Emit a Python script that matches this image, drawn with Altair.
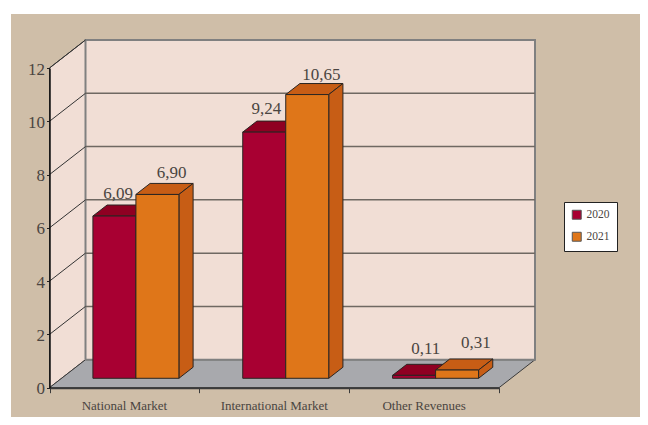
import altair as alt
import pandas as pd

categories = ["National Market", "International Market", "Other Revenues"]
years = ["2020", "2021"]
v2020 = [6.09, 9.24, 0.11]
v2021 = [6.90, 10.65, 0.31]
labels2020 = ["6,09", "9,24", "0,11"]
labels2021 = ["6,90", "10,65", "0,31"]
y_ticks = [0, 2, 4, 6, 8, 10, 12]
x_ticks = [0, 1, 2, 3]

# pixel size of one unit on each scale, and of the full floor depth
KX, KY = 149.83, 26.64
DX, DY = 36 / KX, 28 / KY
FRONT, BACK = 0.336, 0.73
BAR_START, BAR_W = 0.209, 0.287

RED, RED_DK = "#A80032", "#8F0022"
ORG, ORG_DK = "#DF7619", "#C75D15"
WALL, FLOOR, BG = "#F1DED5", "#A8A9AD", "#CFBEA8"
INK = "#2A2522"
TXT = "#4A4541"

W, H = 632, 409

xs = alt.Scale(domain=[0, 3], range=[41.5, 491], nice=False, zero=False)
ys = alt.Scale(domain=[0, 12], range=[379.7, 60], nice=False, zero=False)
x_axis = alt.Axis(
    values=x_ticks, labels=False, title=None, grid=False, offset=-(H - 379.7), tickSize=5,
    domainColor="#3A3A3A", tickColor="#3A3A3A", domainWidth=2, tickWidth=1, zindex=1,
)
y_axis = alt.Axis(
    values=y_ticks, title=None, grid=False, offset=-41.5, tickSize=3,
    domainColor="#111111", tickColor="#222222", domainWidth=1.5, tickWidth=1, zindex=1,
    labelFont="Liberation Serif", labelFontSize=17, labelColor=TXT, labelPadding=2,
    labelOffset=1, format="d",
)
X = alt.X("x:Q", scale=xs, axis=x_axis)
Y = alt.Y("v:Q", scale=ys, axis=y_axis)


def P(x, v, d=0.0):
    return x + DX * d, v + DY * d


def poly_layer(polys, stroke, width):
    rows = []
    for pid, (fill, pts) in enumerate(polys):
        for i, (x, v) in enumerate(list(pts) + [pts[0]]):
            rows.append(dict(pid=pid, i=i, x=x, v=v, fill=fill))
    return alt.Chart(pd.DataFrame(rows)).mark_line(
        stroke=stroke, strokeWidth=width, strokeJoin="miter"
    ).encode(
        x=X, y=Y,
        fill=alt.Fill("fill:N", scale=None),
        detail="pid:N",
        order="i:Q",
    )


def seg_layer(segs, stroke, width):
    rows = []
    for pid, (a, b) in enumerate(segs):
        rows.append(dict(pid=pid, i=0, x=a[0], v=a[1]))
        rows.append(dict(pid=pid, i=1, x=b[0], v=b[1]))
    return alt.Chart(pd.DataFrame(rows)).mark_line(stroke=stroke, strokeWidth=width).encode(
        x=X, y=Y,
        detail="pid:N",
        order="i:Q",
    )


background = alt.Chart(pd.DataFrame({"a": [0]})).mark_rect(color=BG).encode(
    x=alt.value(3), x2=alt.value(W), y=alt.value(6), y2=alt.value(H)
)

walls = poly_layer([
    (WALL, [P(0, 0), P(0, 12), P(0, 12, 1), P(0, 0, 1)]),
    (FLOOR, [P(0, 0), P(0, 0, 1), P(3, 0, 1), P(3, 0)]),
], "#3A3A3A", 1)
back_wall = poly_layer(
    [(WALL, [P(0, 0, 1), P(0, 12, 1), P(3, 12, 1), P(3, 0, 1)])], "#808080", 2
)
back_grid = seg_layer(
    [(P(0, t, 1), P(3, t, 1)) for t in y_ticks[1:-1]], "#6F6862", 1.5
)
side_grid = seg_layer(
    [(P(0, t), P(0, t, 1)) for t in y_ticks[1:]], "#333333", 1
)

faces = []
fronts = []
for c in range(3):
    for s, (vals, col, dk) in enumerate(((v2020, RED, RED_DK), (v2021, ORG, ORG_DK))):
        v = vals[c]
        x0 = c + BAR_START + s * BAR_W
        x1 = x0 + BAR_W
        faces.append((dk, [P(x0, v, FRONT), P(x1, v, FRONT), P(x1, v, BACK), P(x0, v, BACK)]))
        faces.append((dk, [P(x1, 0, FRONT), P(x1, v, FRONT), P(x1, v, BACK), P(x1, 0, BACK)]))
        fx0, fv1 = P(x0, v, FRONT)
        fx1, fv0 = P(x1, 0, FRONT)
        fronts.append(dict(x=fx0, x2=fx1, v=fv1, v2=fv0, year=years[s]))
tops = poly_layer(faces, INK, 1)

front_bars = alt.Chart(pd.DataFrame(fronts)).mark_rect(stroke=INK, strokeWidth=1).encode(
    x=X,
    x2="x2:Q",
    y=Y,
    y2="v2:Q",
    color=alt.Color(
        "year:N",
        scale=alt.Scale(domain=years, range=[RED, ORG]),
        legend=alt.Legend(
            title=None, orient="none", legendX=556, legendY=194,
            fillColor="white", strokeColor="#222222", padding=7,
            symbolType="square", symbolSize=80, symbolStrokeColor="#555555", symbolStrokeWidth=1,
            symbolOpacity=1, labelFont="Liberation Serif", labelFontSize=11.5, labelColor=TXT,
            rowPadding=8, labelOffset=4,
        ),
    ),
)

# label nudges in pixels
nudge_x = [[-10.5, -12, -2.5], [0, 0, 4.5]]
nudge_y = [[6, 7, 10], [5, 4, 11]]
rows = []
for c in range(3):
    for s, (vals, txts) in enumerate(((v2020, labels2020), (v2021, labels2021))):
        x, v = P(c + BAR_START + (s + 0.5) * BAR_W, vals[c], BACK)
        rows.append(dict(x=x + nudge_x[s][c] / KX, v=v + nudge_y[s][c] / KY, t=txts[c]))
value_labels = alt.Chart(pd.DataFrame(rows)).mark_text(
    font="Liberation Serif", fontSize=17, color=TXT, baseline="alphabetic", align="center"
).encode(x=X, y=Y, text="t:N")

cat_labels = alt.Chart(pd.DataFrame({"c": categories, "x": [0.5, 1.5, 2.5]})).mark_text(
    font="Liberation Serif", fontSize=13, color=TXT, baseline="middle", align="center"
).encode(x=X, y=alt.value(397.5), text="c:N")

chart = alt.layer(
    background, walls, back_wall, back_grid, side_grid, tops, front_bars, value_labels, cat_labels
).properties(
    width=W, height=H, padding=0, background="white",
    autosize=alt.AutoSizeParams(type="none"),
).configure_view(stroke=None)

chart.save("out.html", embed_options={"renderer": "svg", "actions": False})
